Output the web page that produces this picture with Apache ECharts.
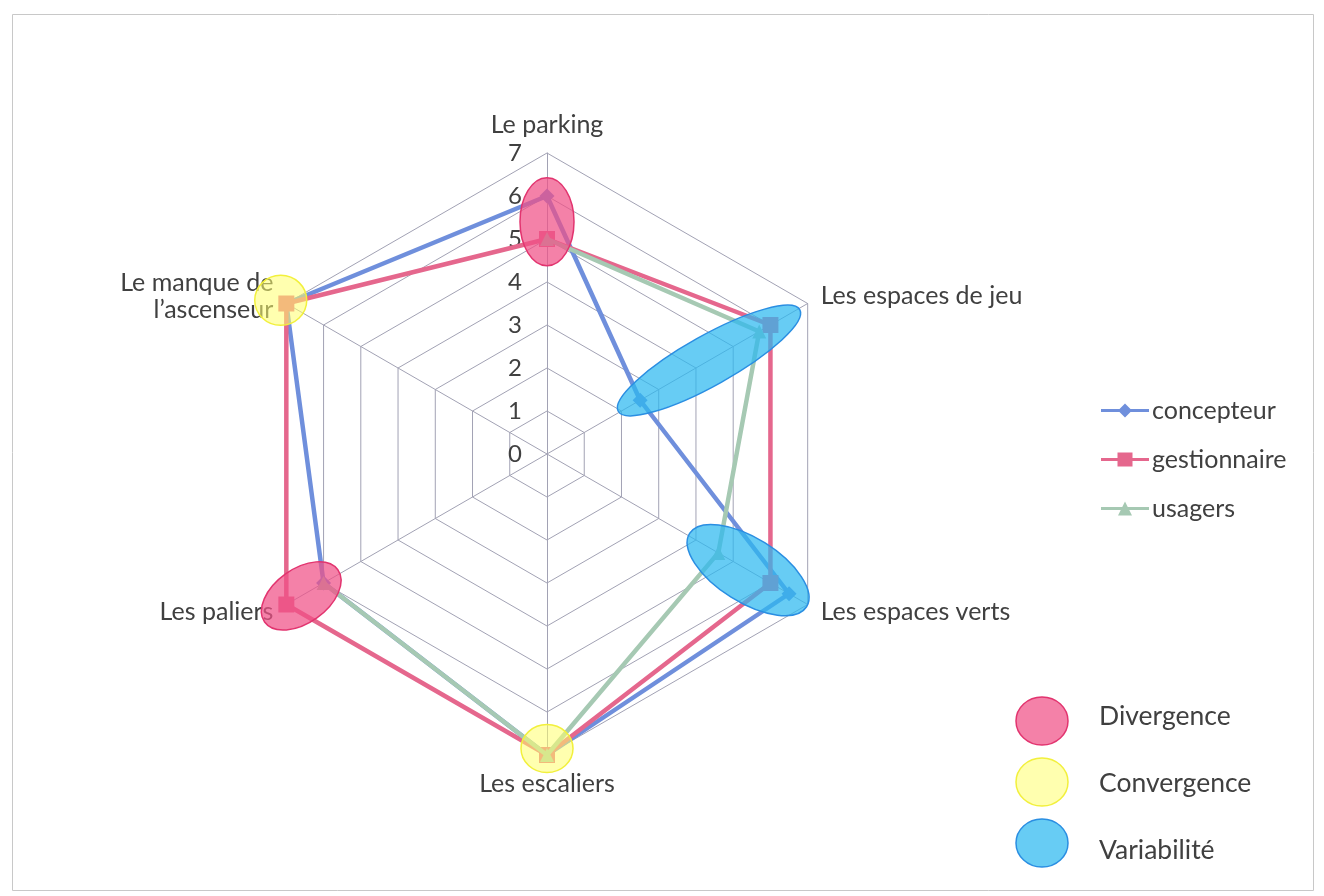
<!DOCTYPE html>
<html>
<head>
<meta charset="utf-8">
<script src="https://cdn.jsdelivr.net/npm/echarts@6/dist/echarts.min.js"></script>
<style>
  html, body { margin: 0; padding: 0; background: #ffffff; }
  #chart { width: 1324px; height: 896px; }
</style>
</head>
<body>
<div id="chart"></div>
<script>
// Radar axes, listed in the order ECharts lays them out (from the top, counter-clockwise)
const categories = ['Le parking', 'Le manque de\nl\u2019ascenseur', 'Les paliers', 'Les escaliers', 'Les espaces verts', 'Les espaces de jeu'];
const maxValue = 7;

// Series values, same order as the axes (usagers gave no rating for the lift)
const concepteur   = [6, 7, 6, 7, 6.5, 2.5];
const gestionnaire = [5, 7, 7, 7, 6, 6];
const usagers      = [5, null, 6, 7, 4.6, 5.7];

const seriesNames = ['concepteur', 'gestionnaire', 'usagers'];

// Highlight zones: [axis index, position along the axis (in value units)]
const divergenceZones  = [[0, 5.4], [2, 6.6]];
const convergenceZones = [[1, 7.15], [3, 6.85]];
const variabiliteZones = [[5, 4.35], [4, 5.4]];
const zoneLegend = ['Divergence', 'Convergence', 'Variabilit\u00e9'];

const FONT = 'Lato, "Open Sans", sans-serif';
const TEXT = '#404040';
const CX = 547, CY = 454, R = 301;

const COLORS = { concepteur: '#6F8FDC', gestionnaire: '#E5678D', usagers: '#A6C9B3' };

// pixel position of a value on a radar axis
function axisPoint(idx, v) {
  const a = Math.PI / 2 + idx * 2 * Math.PI / categories.length;
  const r = R * v / maxValue;
  return [CX + r * Math.cos(a), CY - r * Math.sin(a)];
}

const PINK = { fill: 'rgba(240,80,135,0.72)', stroke: '#E2346F' };
const YELLOW = { fill: 'rgba(255,255,110,0.55)', stroke: '#F2F03C' };
const BLUE = { fill: 'rgba(45,185,240,0.72)', stroke: '#2A8EE2' };

const zoneShapes = [
  // shape sizes and tilt for each highlight zone
  { zone: divergenceZones[0], rx: 27, ry: 44, rot: 0, c: PINK },
  { zone: divergenceZones[1], rx: 45, ry: 27, rot: 0.62, c: PINK },
  { zone: convergenceZones[0], rx: 26, ry: 25, rot: 0, c: YELLOW },
  { zone: convergenceZones[1], rx: 26, ry: 24, rot: 0, c: YELLOW },
  { zone: variabiliteZones[0], rx: 104, ry: 25, rot: 0.51, c: BLUE },
  { zone: variabiliteZones[1], rx: 69, ry: 32, rot: -0.56, c: BLUE }
];

const graphic = [];
// frame
graphic.push({
  type: 'rect', left: 10, top: 12, z: 1,
  shape: { width: 1301, height: 876 },
  style: { fill: 'none', stroke: '#C8C8C8', lineWidth: 1 }
});
zoneShapes.forEach(function (s) {
  const p = axisPoint(s.zone[0], s.zone[1]);
  graphic.push({
    type: 'ellipse', x: p[0], y: p[1], rotation: s.rot, z: 100,
    shape: { cx: 0, cy: 0, rx: s.rx, ry: s.ry },
    style: { fill: s.c.fill, stroke: s.c.stroke, lineWidth: 1.5 }
  });
});
// legend of the highlight zones
const zoneMarkY = [721, 782, 843];
const zoneTextY = [716, 783, 850];
[PINK, YELLOW, BLUE].forEach(function (c, i) {
  graphic.push({
    type: 'ellipse', x: 1042, y: zoneMarkY[i], z: 100,
    shape: { cx: 0, cy: 0, rx: 26, ry: 24 },
    style: { fill: c.fill, stroke: c.stroke, lineWidth: 1.5 }
  });
  graphic.push({
    type: 'text', x: 1099, y: zoneTextY[i], z: 100,
    style: { text: zoneLegend[i], fill: TEXT, font: '26.5px ' + FONT, textVerticalAlign: 'middle' }
  });
});

const legendIcons = {
  concepteur: 'path://M0,5.5H48V8.5H0Z M24,0L31,7L24,14L17,7Z',
  gestionnaire: 'path://M0,5.5H48V8.5H0Z M16.5,0H31.5V14H16.5Z',
  usagers: 'path://M0,5.5H48V8.5H0Z M24,0L31,14H17Z'
};

const indicator = categories.map(function (name, i) {
  const ind = { name: name, min: 0, max: maxValue };
  if (i > 0) ind.axisLabel = { show: false };
  return ind;
});

const values = { concepteur: concepteur, gestionnaire: gestionnaire, usagers: usagers };
const symbols = { concepteur: ['diamond', 15], gestionnaire: ['rect', 16], usagers: ['triangle', 14] };

// usagers is drawn as an open line (it has a gap), walking the axes clockwise from the top;
// each point is [value, axis index] on a polar system laid over the radar
const clockwiseOrder = [0, 5, 4, 3, 2, 1];
const usagersPath = clockwiseOrder.map(function (i) {
  return [usagers[i] == null ? '-' : usagers[i], i];
});

const hiddenAxis = { axisLine: { show: false }, axisTick: { show: false }, axisLabel: { show: false }, splitLine: { show: false } };

const chart = echarts.init(document.getElementById('chart'), null, { renderer: 'canvas' });
chart.setOption({
  backgroundColor: '#ffffff',
  animation: false,
  textStyle: { fontFamily: FONT },
  legend: {
    orient: 'vertical',
    left: 1096, top: 393,
    itemWidth: 50, itemHeight: 14, itemGap: 24,
    textStyle: { fontSize: 25, color: TEXT, fontFamily: FONT, padding: [0, 0, 0, -3] },
    data: seriesNames.map(function (n) { return { name: n, icon: legendIcons[n] }; })
  },
  radar: {
    center: [CX, CY],
    radius: R,
    shape: 'polygon',
    splitNumber: 7,
    startAngle: 90,
    indicator: indicator,
    nameGap: 15,
    axisName: { color: TEXT, fontSize: 25, fontFamily: FONT, lineHeight: 27 },
    splitArea: { show: false },
    splitLine: { lineStyle: { color: '#A2A2B4', width: 1 } },
    axisLine: { lineStyle: { color: '#A2A2B4', width: 1 } },
    axisTick: { show: false },
    axisLabel: { show: true, color: TEXT, fontSize: 24, fontFamily: FONT, margin: 25, showMinLabel: true }
  },
  polar: { center: [CX, CY], radius: R },
  angleAxis: Object.assign({
    type: 'value', min: 0, max: categories.length, startAngle: 90, clockwise: false
  }, hiddenAxis),
  radiusAxis: Object.assign({ min: 0, max: maxValue }, hiddenAxis),
  series: [{
    type: 'radar',
    data: ['concepteur', 'gestionnaire'].map(function (n) {
      return {
        name: n,
        value: values[n],
        symbol: symbols[n][0],
        symbolSize: symbols[n][1],
        itemStyle: { color: COLORS[n] },
        lineStyle: { color: COLORS[n], width: 4.5 }
      };
    })
  }, {
    name: 'usagers',
    type: 'line',
    coordinateSystem: 'polar',
    data: usagersPath,
    connectNulls: false,
    symbol: symbols.usagers[0],
    symbolSize: symbols.usagers[1],
    showAllSymbol: true,
    itemStyle: { color: COLORS.usagers },
    lineStyle: { color: COLORS.usagers, width: 4.5 }
  }],
  graphic: graphic
});
</script>
</body>
</html>
